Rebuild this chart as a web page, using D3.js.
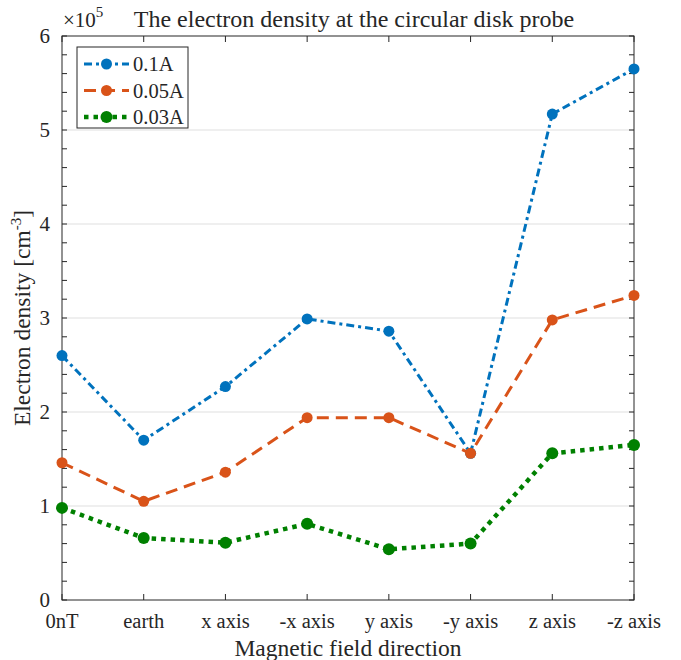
<!DOCTYPE html>
<html>
<head>
<meta charset="utf-8">
<script src="https://cdn.jsdelivr.net/npm/d3@7"></script>
<style>
  body { margin: 0; background: #fff; }
  svg text { font-family: "Liberation Serif", "Times New Roman", serif; fill: #262626; }
</style>
</head>
<body>
<svg id="chart" width="681" height="660"></svg>
<script>
// values (electrons per cm^3)
const categories = ['0nT', 'earth', 'x axis', '-x axis', 'y axis', '-y axis', 'z axis', '-z axis'];
const current01 = [2.60e5, 1.70e5, 2.27e5, 2.99e5, 2.86e5, 1.56e5, 5.17e5, 5.65e5];
const current005 = [1.46e5, 1.05e5, 1.36e5, 1.94e5, 1.94e5, 1.56e5, 2.98e5, 3.24e5];
const current003 = [0.98e5, 0.66e5, 0.61e5, 0.81e5, 0.54e5, 0.60e5, 1.56e5, 1.65e5];
const seriesNames = ['0.1A', '0.05A', '0.03A'];
const yTicks = [0, 1e5, 2e5, 3e5, 4e5, 5e5, 6e5];

const series = [
  {name: seriesNames[0], values: current01, color: '#0072BD', width: 3, dash: '8,4,3,4', r: 5.5},
  {name: seriesNames[1], values: current005, color: '#D95319', width: 3, dash: '12,7', r: 5.5},
  {name: seriesNames[2], values: current003, color: '#008000', width: 4.5, dash: '4.5,5', r: 6}
];

let svg = d3.select('#chart');
let pLeft = 62, pRight = 634, pTop = 36, pBottom = 600;

let x = d3.scalePoint().domain(categories).range([pLeft, pRight]);
let y = d3.scaleLinear().domain([0, 6e5]).range([pBottom, pTop]);

// grid
svg.append('g').selectAll('line')
  .data(yTicks.slice(1, -1))
  .enter().append('line')
  .attr('x1', pLeft).attr('x2', pRight)
  .attr('y1', d => y(d)).attr('y2', d => y(d))
  .attr('stroke', '#dfdfdf').attr('stroke-width', 1);

// minor ticks every 0.2e5 on both sides
let minor = d3.range(0, 6e5 + 1, 0.2e5);
let tickG = svg.append('g').attr('stroke', '#262626').attr('stroke-width', 1);
tickG.selectAll('.ml').data(minor).enter().append('line')
  .attr('x1', pLeft).attr('x2', pLeft + 5)
  .attr('y1', d => y(d)).attr('y2', d => y(d));
tickG.selectAll('.mr').data(minor).enter().append('line')
  .attr('x1', pRight).attr('x2', pRight - 5)
  .attr('y1', d => y(d)).attr('y2', d => y(d));
tickG.selectAll('.xb').data(categories).enter().append('line')
  .attr('x1', d => x(d)).attr('x2', d => x(d))
  .attr('y1', pBottom).attr('y2', pBottom - 6);
tickG.selectAll('.xt').data(categories).enter().append('line')
  .attr('x1', d => x(d)).attr('x2', d => x(d))
  .attr('y1', pTop).attr('y2', pTop + 6);

// box
svg.append('rect')
  .attr('x', pLeft).attr('y', pTop)
  .attr('width', pRight - pLeft).attr('height', pBottom - pTop)
  .attr('fill', 'none').attr('stroke', '#262626').attr('stroke-width', 1);

// tick labels
svg.append('g').selectAll('text').data(yTicks).enter().append('text')
  .attr('x', pLeft - 12).attr('y', d => y(d) + 7)
  .attr('text-anchor', 'end').attr('font-size', 21)
  .text(d => d / 1e5);

svg.append('g').selectAll('text').data(categories).enter().append('text')
  .attr('x', d => x(d)).attr('y', pBottom + 28)
  .attr('text-anchor', 'middle').attr('font-size', 20.5)
  .text(d => d);

// exponent
let expo = svg.append('text').attr('x', pLeft + 1).attr('y', 27).attr('font-size', 21);
expo.append('tspan').text('\u00d710');
expo.append('tspan').attr('dy', -10).attr('font-size', 15).text('5');

// title
svg.append('text')
  .attr('x', 354).attr('y', 27)
  .attr('text-anchor', 'middle').attr('font-size', 24)
  .text('The electron density at the circular disk probe');

// axis labels
svg.append('text')
  .attr('x', (pLeft + pRight) / 2).attr('y', 656)
  .attr('text-anchor', 'middle').attr('font-size', 23.5)
  .text('Magnetic field direction');

let yl = svg.append('text')
  .attr('transform', 'translate(30,' + ((pTop + pBottom) / 2) + ') rotate(-90)')
  .attr('text-anchor', 'middle').attr('font-size', 23.5);
yl.append('tspan').text('Electron density [cm');
yl.append('tspan').attr('dy', -9).attr('font-size', 15).text('-3');
yl.append('tspan').attr('dy', 9).text(']');

// lines + markers
let line = d3.line().x((d, i) => x(categories[i])).y(d => y(d));

series.forEach(s => {
  svg.append('path')
    .datum(s.values)
    .attr('d', line)
    .attr('fill', 'none')
    .attr('stroke', s.color)
    .attr('stroke-width', s.width)
    .attr('stroke-dasharray', s.dash);
  svg.append('g').selectAll('circle').data(s.values).enter().append('circle')
    .attr('cx', (d, i) => x(categories[i]))
    .attr('cy', d => y(d))
    .attr('r', s.r)
    .attr('fill', s.color);
});

// legend
let lg = svg.append('g').attr('transform', 'translate(77,47)');
lg.append('rect').attr('width', 111).attr('height', 81)
  .attr('fill', '#fff').attr('stroke', '#262626').attr('stroke-width', 1);
series.forEach((s, i) => {
  let ly = 17 + i * 26.5;
  lg.append('line')
    .attr('x1', 7).attr('x2', 52).attr('y1', ly).attr('y2', ly)
    .attr('stroke', s.color).attr('stroke-width', s.width)
    .attr('stroke-dasharray', s.dash);
  lg.append('circle').attr('cx', 29.5).attr('cy', ly).attr('r', s.r).attr('fill', s.color);
  lg.append('text').attr('x', 56).attr('y', ly + 7).attr('font-size', 20.5).text(s.name);
});
</script>
</body>
</html>
